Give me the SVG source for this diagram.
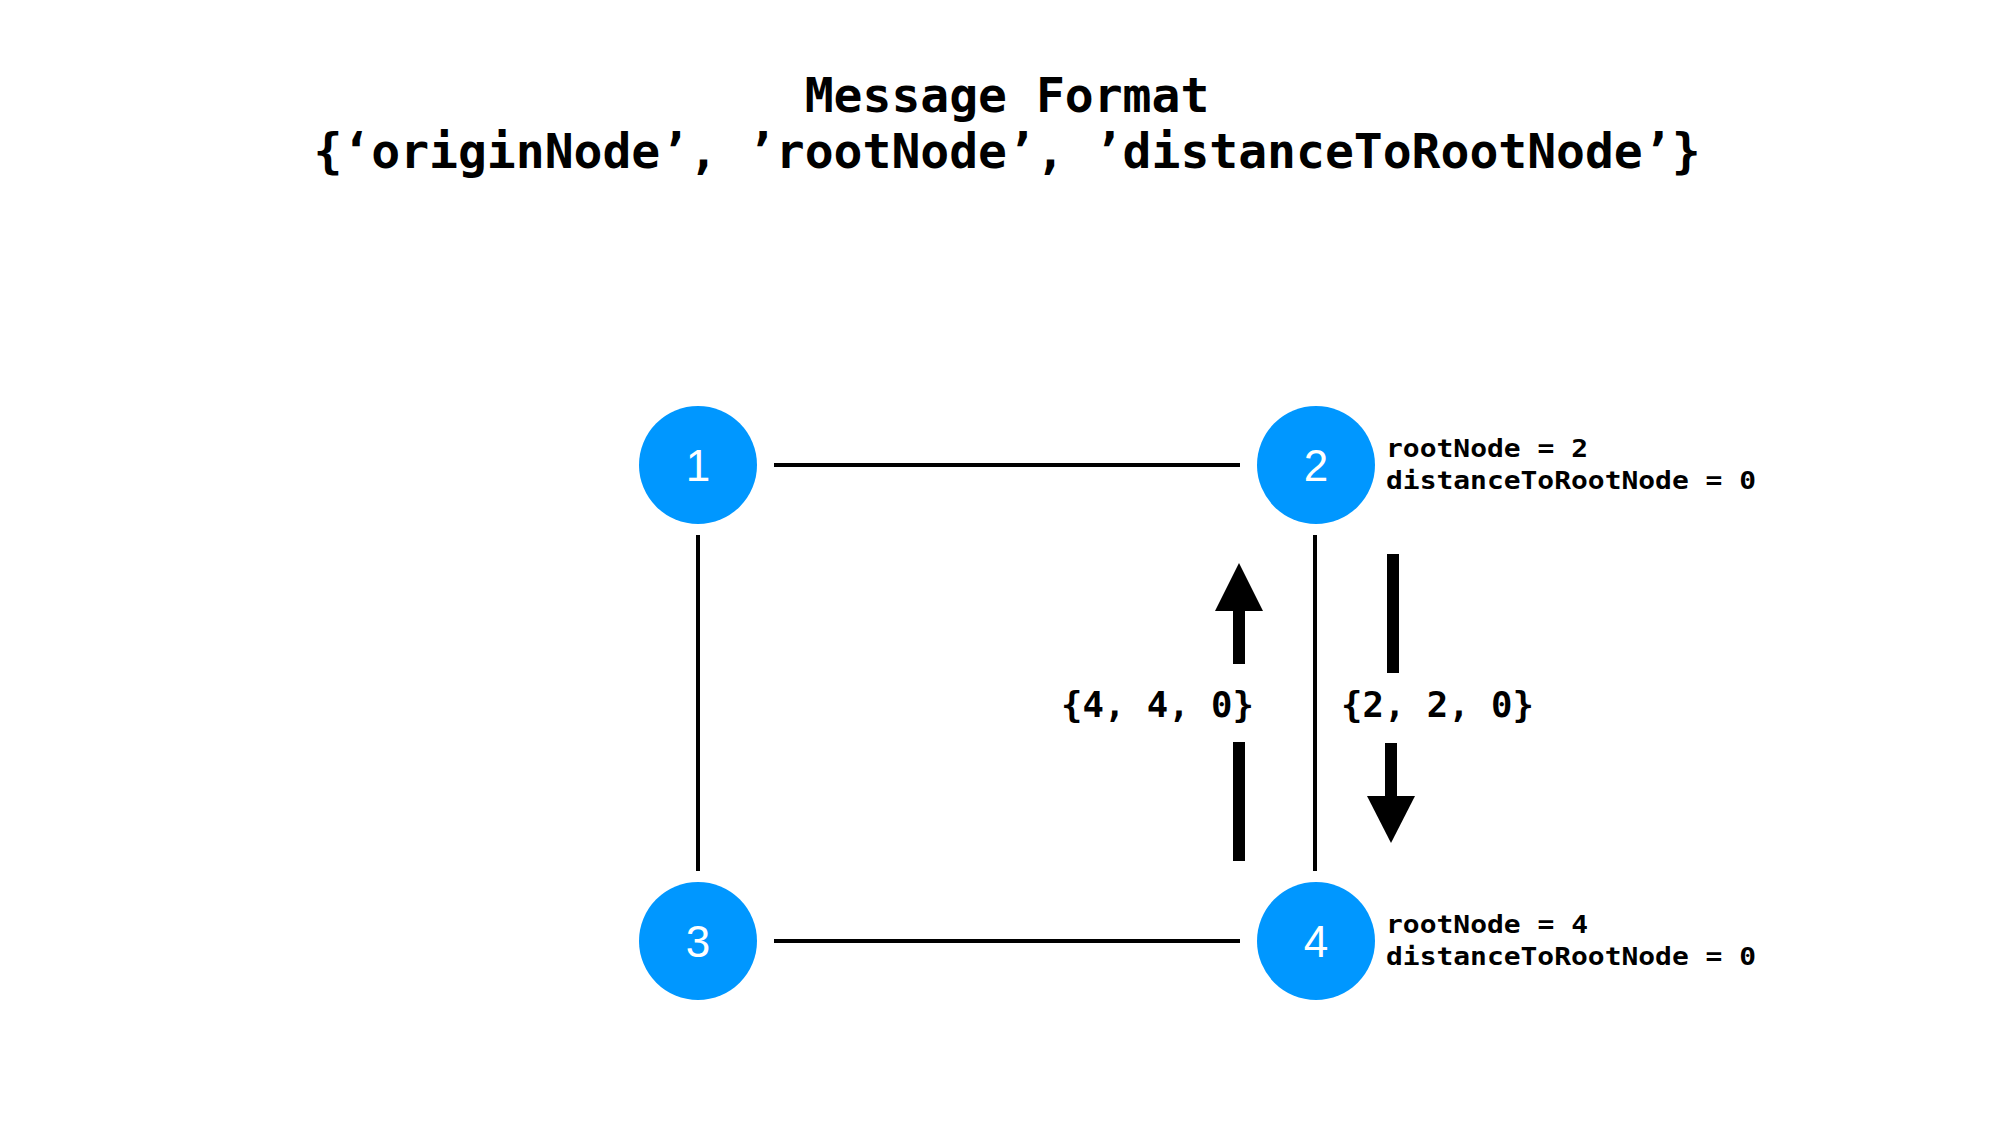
<svg xmlns="http://www.w3.org/2000/svg" width="2014" height="1124" viewBox="0 0 2014 1124">
<style>
.title{font-family:"DejaVu Sans Mono","Liberation Mono",monospace;font-weight:bold;font-size:48px;fill:#000;text-anchor:middle}
.msg{font-family:"DejaVu Sans Mono","Liberation Mono",monospace;font-weight:bold;font-size:36px;fill:#000}
.info{font-family:"DejaVu Sans Mono","Liberation Mono",monospace;font-weight:bold;font-size:25px;fill:#000}
.node circle{fill:#0097FF}
.node text{font-family:"Liberation Sans",Arial,sans-serif;font-size:44px;fill:#fff;text-anchor:middle}
.edge{stroke:#000;stroke-width:4;fill:none}
.shaft{fill:#000}
</style>
<rect width="2014" height="1124" fill="#fff"/>
<g id="title">
<text class="title" x="1007" y="112">Message Format</text>
<text class="title" x="1007" y="168">{‘originNode’, ’rootNode’, ’distanceToRootNode’}</text>
</g>
<g id="connectors">
<line class="edge" x1="774" y1="465" x2="1240" y2="465"/>
<line class="edge" x1="774" y1="941" x2="1240" y2="941"/>
<line class="edge" x1="698" y1="535" x2="698" y2="871"/>
<line class="edge" x1="1315" y1="535" x2="1315" y2="871"/>
<g id="arrow-up">
<rect class="shaft" x="1233" y="609" width="12" height="55"/>
<polygon class="shaft" points="1239,563 1263,611 1215,611"/>
<rect class="shaft" x="1233" y="742" width="12" height="119"/>
</g>
<g id="arrow-down">
<rect class="shaft" x="1387" y="554" width="12" height="119"/>
<rect class="shaft" x="1385" y="743" width="12" height="55"/>
<polygon class="shaft" points="1367,796 1415,796 1391,843"/>
</g>
</g>
<g id="label-4-4-0"><text class="msg" x="1061" y="717" textLength="193" lengthAdjust="spacingAndGlyphs">{4, 4, 0}</text></g>
<g id="label-2-2-0"><text class="msg" x="1341" y="717" textLength="193" lengthAdjust="spacingAndGlyphs">{2, 2, 0}</text></g>
<g id="node1" class="node"><circle cx="698" cy="465" r="59"/><text x="698" y="481">1</text></g>
<g id="node2" class="node"><circle cx="1316" cy="465" r="59"/><text x="1316" y="481">2</text></g>
<g id="node3" class="node"><circle cx="698" cy="941" r="59"/><text x="698" y="957">3</text></g>
<g id="node4" class="node"><circle cx="1316" cy="941" r="59"/><text x="1316" y="957">4</text></g>
<g id="info2">
<text class="info" x="1386" y="457" textLength="202" lengthAdjust="spacingAndGlyphs">rootNode = 2</text>
<text class="info" x="1386" y="489" textLength="370" lengthAdjust="spacingAndGlyphs">distanceToRootNode = 0</text>
</g>
<g id="info4">
<text class="info" x="1386" y="933" textLength="202" lengthAdjust="spacingAndGlyphs">rootNode = 4</text>
<text class="info" x="1386" y="965" textLength="370" lengthAdjust="spacingAndGlyphs">distanceToRootNode = 0</text>
</g>
</svg>
